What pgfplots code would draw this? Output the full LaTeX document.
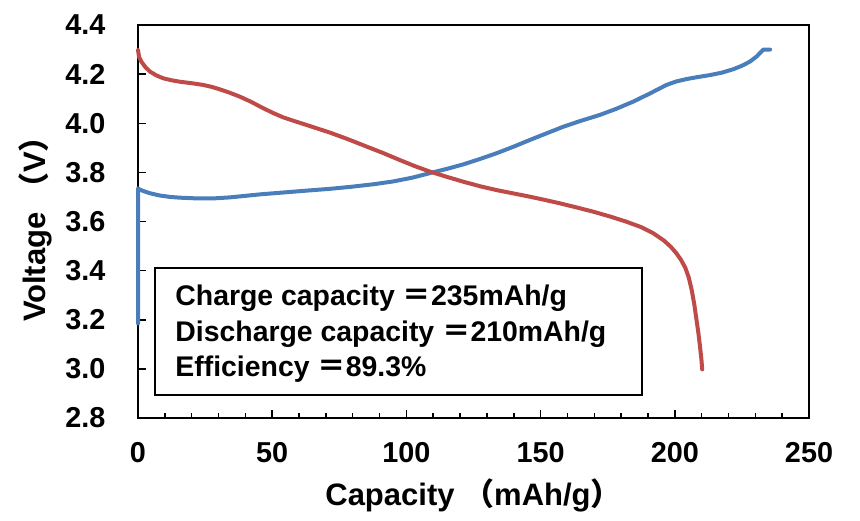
\documentclass[border=0pt]{standalone}
\usepackage{fontspec}
\setmainfont{Liberation Sans}
\newfontfamily\cjk{Noto Sans CJK JP}
\usepackage{pgfplots}
\pgfplotsset{compat=1.18}
\definecolor{cblue}{HTML}{4A7EBB}
\definecolor{cred}{HTML}{BE4B48}
\begin{document}
\begin{tikzpicture}
\useasboundingbox (-69pt,-51pt) rectangle (361pt,209pt);
\begin{axis}[
  scale only axis, width=335.5pt, height=196.5pt,
  xmin=0, xmax=250, ymin=2.8, ymax=4.4,
  xtick={0,50,100,150,200,250}, minor x tick num=4,
  ytick={2.8,3.0,3.2,3.4,3.6,3.8,4.0,4.2,4.4},
  xtick pos=bottom, ytick pos=left,
  tick align=inside,
  major tick length=4pt, minor tick length=2.5pt,
  every tick/.style={black, line width=0.75pt},
  axis line style={line width=0.8pt, black},
  /pgf/number format/assume math mode=true,
  ticklabel style={font=\bfseries\fontsize{14.4}{16}\selectfont},
  x tick label style={yshift=-8.5pt},
  y tick label style={xshift=-12.8pt},
  yticklabel style={/pgf/number format/.cd, fixed, fixed zerofill, precision=1},
  xlabel={Capacity\ {\cjk （}mAh/g{\cjk ）}},
  ylabel={Voltage\ {\cjk （}V{\cjk ）}},
  every axis x label/.style={at={([yshift=-38.5pt]axis description cs:0.5,0)}, anchor=center, font=\bfseries\fontsize{15.5}{18}\selectfont},
  every axis y label/.style={at={([xshift=-51.5pt]axis description cs:0,0.5)}, anchor=center, rotate=90, font=\bfseries\fontsize{15.5}{18}\selectfont},
  clip=false,
]
% charge
\addplot[cblue, line width=2pt, line join=round, line cap=round] coordinates {
(0,3.185) (0,3.45) (0,3.735) (0.5,3.731) (2,3.724) (4.5,3.715) (8,3.706) (12,3.700)
(15.6,3.697) (22,3.694) (28,3.694) (34,3.698) (40.5,3.705) (46,3.711) (52.9,3.717)
(62,3.725) (71.5,3.733) (80,3.742) (88,3.752) (95,3.763) (102,3.778) (108.8,3.797)
(115,3.814) (121,3.832) (127,3.853) (133.6,3.878) (140,3.905) (146,3.932) (152,3.958)
(158.5,3.986) (165,4.010) (172.1,4.034) (178,4.058) (184.5,4.088) (190.5,4.120)
(196.9,4.156) (200.5,4.170) (204.4,4.180) (208.5,4.188) (213.1,4.196) (217.5,4.206)
(221.8,4.220) (225,4.234) (228,4.251) (230.5,4.272) (233,4.300) (235.5,4.300)
};
% discharge
\addplot[cred, line width=2pt, line join=round, line cap=round] coordinates {
(0,4.298) (0.4,4.27) (1.3,4.250) (2.8,4.228) (4.5,4.210) (6.8,4.195) (9.4,4.183)
(12.5,4.175) (15.6,4.169) (20,4.163) (24.3,4.156) (27.5,4.148) (30.5,4.138)
(34,4.125) (38,4.108) (42,4.088) (46.7,4.061) (50.5,4.041) (54.1,4.024) (58.5,4.008)
(62.8,3.993) (67,3.978) (71.5,3.962) (78,3.936) (85.2,3.905) (91.5,3.878)
(97.6,3.850) (103,3.826) (108.8,3.803) (115,3.782) (121.2,3.762) (128,3.742)
(134,3.727) (140,3.714) (146,3.701) (151.5,3.688) (157.2,3.674) (163.5,3.657)
(169.6,3.640) (176,3.620) (182,3.599) (187.5,3.577) (192,3.552) (196,3.522)
(198.5,3.497) (200.5,3.472) (202.3,3.444) (203.9,3.412) (205.2,3.372) (206.3,3.321)
(207.3,3.260) (208.1,3.199) (208.8,3.145) (209.4,3.090) (209.9,3.040) (210.2,2.998)
};
\draw[black, line width=0.8pt] (axis cs:6.3,3.411) rectangle (axis cs:187.8,2.893);
\begin{scope}[every node/.style={anchor=base west, inner sep=0pt, font=\bfseries\fontsize{14.2}{17}\selectfont}]
\node at (axis cs:13.8,3.257) {Charge capacity {\cjk ＝}235mAh/g};
\node at (axis cs:13.8,3.110) {Discharge capacity {\cjk ＝}210mAh/g};
\node at (axis cs:13.8,2.967) {Efficiency {\cjk ＝}89.3\%};
\end{scope}
\end{axis}
\end{tikzpicture}
\end{document}
